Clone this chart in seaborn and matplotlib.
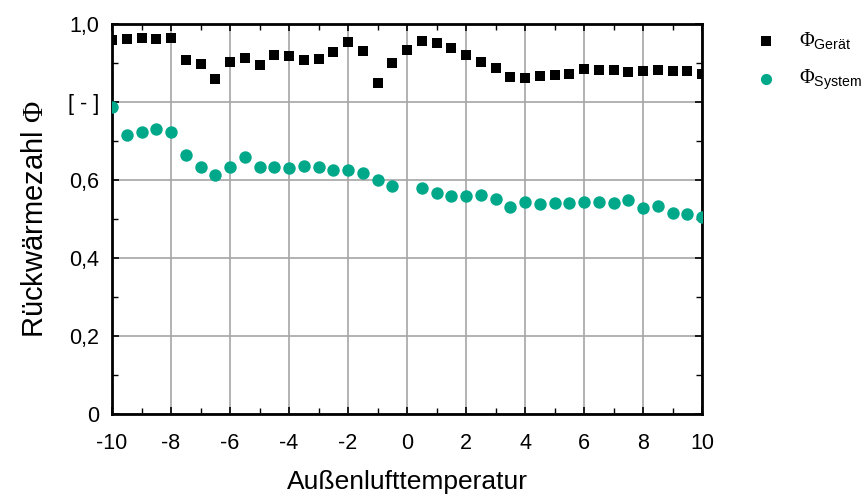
import numpy as np
import pandas as pd
import matplotlib
matplotlib.use("Agg")
import matplotlib.pyplot as plt
import seaborn as sns
from matplotlib.ticker import MultipleLocator, FixedLocator, FixedFormatter

temperature = [-10, -9.5, -9, -8.5, -8, -7.5, -7, -6.5, -6, -5.5, -5, -4.5, -4, -3.5, -3,
               -2.5, -2, -1.5, -1, -0.5, 0, 0.5, 1, 1.5, 2, 2.5, 3, 3.5, 4, 4.5, 5,
               5.5, 6, 6.5, 7, 7.5, 8, 8.5, 9, 9.5, 10]
phi_geraet = [0.959, 0.962, 0.964, 0.962, 0.964, 0.908, 0.897, 0.859, 0.903, 0.913, 0.895,
              0.921, 0.918, 0.908, 0.910, 0.928, 0.954, 0.931, 0.849, 0.900, 0.933,
              0.956, 0.951, 0.938, 0.921, 0.903, 0.887, 0.864, 0.862, 0.867, 0.869,
              0.872, 0.885, 0.882, 0.882, 0.877, 0.879, 0.882, 0.879, 0.879, 0.872]
phi_system = [0.788, 0.715, 0.723, 0.731, 0.723, 0.664, 0.633, 0.613, 0.633, 0.659, 0.633,
              0.633, 0.631, 0.636, 0.633, 0.626, 0.626, 0.618, 0.601, 0.585, np.nan,
              0.579, 0.566, 0.560, 0.560, 0.562, 0.551, 0.531, 0.544, 0.538, 0.540,
              0.542, 0.544, 0.544, 0.541, 0.549, 0.527, 0.533, 0.515, 0.512, 0.506]
x_ticks = [-10, -8, -6, -4, -2, 0, 2, 4, 6, 8, 10]
x_tick_labels = ["-10", "-8", "-6", "-4", "-2", "0", "2", "4", "6", "8", "10"]
y_ticks = [0, 0.2, 0.4, 0.6, 0.8, 1.0]
y_tick_labels = ["0", "0,2", "0,4", "0,6", "[ - ]", "1,0"]
legend_labels = [r"$\Phi_{\mathsf{Gerät}}$", r"$\Phi_{\mathsf{System}}$"]

sns.set_theme(style="white")
plt.rcParams["font.family"] = ["Liberation Sans", "DejaVu Sans"]
plt.rcParams["mathtext.fontset"] = "custom"
plt.rcParams["mathtext.rm"] = "Liberation Serif"
plt.rcParams["mathtext.sf"] = "Liberation Sans"
plt.rcParams["mathtext.it"] = "Liberation Serif:italic"
for key in ["text.color", "axes.labelcolor", "xtick.color", "ytick.color"]:
    plt.rcParams[key] = "black"

df = pd.DataFrame({"T": temperature, "geraet": phi_geraet, "system": phi_system})

fig = plt.figure(figsize=(8.66, 5.0), dpi=100)
ax = fig.add_axes([112 / 866, 86 / 500, 590 / 866, 390 / 500])

teal = "#00a88a"
sns.scatterplot(data=df, x="T", y="geraet", ax=ax, marker="s", color="black",
                s=55, linewidth=0, label=legend_labels[0], zorder=3)
sns.scatterplot(data=df, x="T", y="system", ax=ax, marker="o", color=teal,
                s=80, linewidth=0, label=legend_labels[1], zorder=3)

ax.set_xlim(-10, 10)
ax.set_ylim(0, 1.0)
ax.xaxis.set_major_locator(FixedLocator(x_ticks))
ax.xaxis.set_major_formatter(FixedFormatter(x_tick_labels))
ax.yaxis.set_major_locator(FixedLocator(y_ticks))
ax.yaxis.set_major_formatter(FixedFormatter(y_tick_labels))
ax.xaxis.set_minor_locator(MultipleLocator(1))
ax.yaxis.set_minor_locator(MultipleLocator(0.1))

ax.grid(True, which="major", color="#a6a6a6", linewidth=1.2)
ax.set_axisbelow(True)
ax.tick_params(which="both", direction="in", top=True, right=True, bottom=True, left=True,
               color="black", labelcolor="black")
ax.tick_params(which="major", length=5, width=1.2, labelsize=15.5, pad=9)
ax.tick_params(which="minor", length=4, width=1.0)
ax.tick_params(axis="x", which="major", pad=14)
for sp in ax.spines.values():
    sp.set_visible(True)
    sp.set_color("black")
    sp.set_linewidth(2)

ax.set_xlabel("Außenlufttemperatur", fontsize=19, labelpad=11, color="black")
ax.set_ylabel(r"Rückwärmezahl $\Phi$", fontsize=21, labelpad=14, color="black")

leg = ax.legend(loc="upper left", bbox_to_anchor=(1.0744, 1.005), frameon=False,
                fontsize=14.5, handletextpad=1.05, labelspacing=0.85, markerscale=0.9,
                borderaxespad=0, handlelength=1.2)
for t in leg.get_texts():
    t.set_color("black")

fig.savefig("out.png", dpi=100)
